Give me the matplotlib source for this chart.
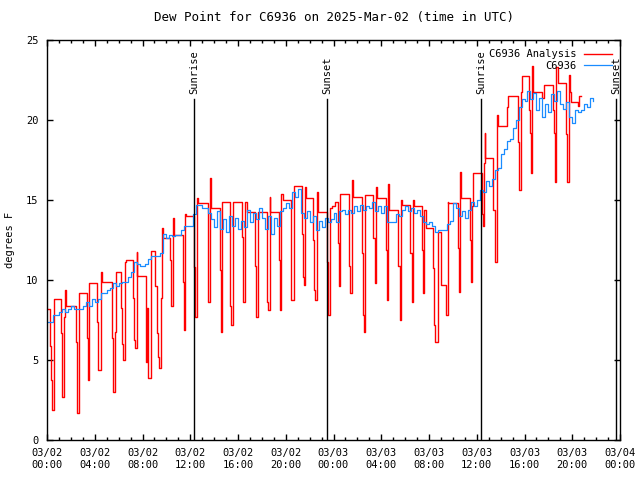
import numpy as np
import matplotlib
matplotlib.use("Agg")
import matplotlib.pyplot as plt

# hours since 2025-03-02 00:00 UTC
red_t = [0.0, 0.25, 0.32, 0.38, 0.42, 0.55, 0.58, 0.62,
         1.17, 1.22, 1.28, 1.4, 1.48, 1.55,
         2.43, 2.48, 2.52, 2.65, 2.7,
         3.35, 3.4, 3.5,
         4.19, 4.25, 4.3, 4.55, 4.6,
         5.44, 5.5, 5.7, 5.78,
         6.2, 6.28, 6.35, 6.55, 6.62,
         7.2, 7.3, 7.4, 7.5, 7.56,
         8.29, 8.33, 8.38, 8.45, 8.68, 8.75,
         9.05, 9.2, 9.32, 9.4, 9.58, 9.63, 9.7,
         10.3, 10.36, 10.42, 10.58, 10.64,
         11.38, 11.44, 11.6, 11.66,
         12.3, 12.38, 12.6, 12.66,
         13.48, 13.52, 13.62, 13.66, 13.74,
         14.48, 14.55, 14.7,
         15.3, 15.4, 15.62,
         16.33, 16.38, 16.44, 16.6, 16.75,
         17.45, 17.5, 17.65,
         18.4, 18.47, 18.52, 18.65, 18.72,
         19.4, 19.48, 19.64, 19.75,
         20.4, 20.48, 20.72,
         21.36, 21.44, 21.5, 21.64, 21.72,
         22.28, 22.38, 22.48, 22.6, 22.68,
         23.45, 23.53, 23.72, 23.9, 24.1,
         24.4, 24.46, 24.55,
         25.27, 25.4, 25.58, 25.66,
         26.38, 26.45, 26.52, 26.68,
         27.3, 27.5, 27.6, 27.68,
         28.4, 28.5, 28.6, 28.68,
         29.4, 29.55, 29.68, 29.75,
         30.4, 30.55, 30.66, 30.75,
         31.4, 31.5, 31.62, 31.75,
         32.3, 32.42, 32.5, 32.72,
         33.0, 33.4, 33.55, 33.62,
         34.42, 34.5, 34.62, 34.7,
         35.4, 35.5, 35.6, 35.66,
         36.45, 36.52, 36.6, 36.65, 36.72,
         37.4, 37.52, 37.66, 37.75,
         38.55, 38.65,
         39.45, 39.55, 39.7, 39.78,
         40.4, 40.45, 40.52, 40.66, 40.75,
         41.5, 41.65,
         42.4, 42.48, 42.55, 42.68, 42.78,
         43.47, 43.55, 43.7, 43.8, 43.9,
         44.5, 44.58, 44.72]
red_v = [8.2, 5.9, 3.75, 2.8, 1.9, 5.3, 7.7, 8.8,
         6.7, 4.4, 2.7, 7.7, 9.4, 8.4,
         6.1, 2.8, 1.7, 5.4, 9.2,
         6.4, 3.75, 9.8,
         7.4, 5.1, 4.4, 10.5, 9.9,
         6.4, 3.0, 6.75, 10.5,
         8.25, 6.0, 5.0, 11.1, 11.25,
         8.9, 6.25, 5.75, 11.75, 10.25,
         7.6, 4.9, 8.25, 3.9, 7.9, 11.8,
         9.6, 6.7, 5.2, 4.5, 8.9, 13.25, 12.6,
         11.25, 10.5, 8.4, 13.9, 12.8,
         9.9, 6.9, 14.1, 14.0,
         10.8, 7.7, 15.1, 14.8,
         11.75, 8.6, 12.5, 16.4, 14.5,
         10.6, 6.75, 14.9,
         8.4, 7.2, 14.9,
         12.7, 9.25, 8.6, 14.9, 14.25,
         10.9, 7.7, 14.25,
         11.7, 8.6, 8.1, 15.2, 14.25,
         11.25, 8.1, 15.4, 15.0,
         11.9, 8.75, 15.9,
         12.9, 10.2, 9.7, 15.8, 15.1,
         12.5, 9.4, 8.75, 15.5, 14.25,
         11.1, 7.8, 14.5, 14.6, 14.9,
         12.3, 9.6, 15.4,
         10.9, 9.2, 16.25, 15.2,
         11.7, 7.8, 6.75, 15.3,
         12.6, 9.8, 15.8, 15.1,
         11.9, 8.75, 16.0, 14.4,
         10.9, 7.5, 15.0, 14.7,
         11.7, 8.6, 15.0, 14.6,
         11.9, 9.2, 14.4, 13.25,
         10.75, 7.2, 6.1, 13.0,
         9.7, 7.8, 14.9, 14.8,
         12.0, 9.25, 16.75, 15.1,
         12.5, 9.9, 14.6, 16.7,
         14.1, 13.4, 17.3, 19.2, 17.6,
         14.4, 11.1, 20.3, 19.6,
         20.8, 21.5,
         18.6, 15.6, 21.75, 22.75,
         20.6, 19.2, 16.7, 23.4, 21.75,
         21.4, 22.2,
         20.6, 19.2, 16.1, 23.3, 22.3,
         19.1, 16.1, 22.8, 21.75, 21.1,
         20.9, 21.5, 21.5]

# observations, one value per quarter hour from 00:00
obs_v = [7.4, 7.4, 7.8, 7.8, 8.0, 8.2, 8.0, 8.2,
         8.4, 8.2, 8.2, 8.2, 8.4, 8.6, 8.4, 8.8,
         8.6, 8.8, 9.2, 9.2, 9.4, 9.5, 9.8, 9.6,
         9.8, 9.9, 9.9, 10.2, 10.5, 11.1, 11.0, 10.9,
         10.9, 11.0, 11.3, 11.5, 11.5, 11.5, 11.7, 12.9,
         12.6, 12.8, 12.75, 12.8, 12.8, 13.1, 13.4, 13.4,
         13.4, 14.1, 14.7, 14.7, 14.5, 14.5, 14.2, 13.8,
         13.3, 14.3, 13.2, 13.8, 13.0, 14.0, 13.4, 13.9,
         13.2, 13.7, 13.3, 14.4, 13.6, 14.2, 13.8, 14.5,
         13.9, 13.2, 14.0, 12.9, 13.9, 13.4, 14.3, 14.5,
         14.8, 14.5, 15.5, 15.2, 15.7, 14.2, 13.9, 14.3,
         13.6, 14.0, 13.1, 13.7, 13.3, 13.9, 13.6, 13.8,
         14.2, 13.6, 14.3, 14.4, 14.1, 14.4, 14.2, 14.6,
         14.3, 14.7, 14.4, 14.6, 14.5, 14.9, 14.3, 14.6,
         14.2, 14.6, 13.6, 13.6, 13.6, 14.1, 14.0, 14.4,
         14.6, 14.3, 14.5, 14.2, 14.4, 14.0, 13.6, 13.5,
         13.6, 13.4, 13.0, 13.15, 13.15, 13.15, 13.5, 13.7,
         14.8, 14.5, 14.0, 14.3, 13.9, 14.4, 14.9, 14.6,
         15.0, 15.6, 15.5, 16.2, 15.9, 16.3, 16.9, 17.0,
         17.9, 18.2, 18.7, 18.8, 19.5, 20.0, 20.8, 21.3,
         21.2, 21.8, 21.3, 21.7, 20.6, 21.4, 20.2, 21.0,
         20.5, 21.6, 21.2, 21.8, 21.0, 20.7, 21.1, 20.2,
         19.8, 20.6, 20.5, 20.6, 21.0, 20.8, 21.4, 21.2]
obs_t = np.arange(len(obs_v)) * 0.25

sun_t = [12.3, 23.45, 36.35, 47.65]
sun_lbl = ["Sunrise", "Sunset", "Sunrise", "Sunset"]

tick_h = list(range(0, 49, 4))
tick_lbl = ["03/02\n00:00", "03/02\n04:00", "03/02\n08:00", "03/02\n12:00",
            "03/02\n16:00", "03/02\n20:00", "03/03\n00:00", "03/03\n04:00",
            "03/03\n08:00", "03/03\n12:00", "03/03\n16:00", "03/03\n20:00",
            "03/04\n00:00"]

plt.rcParams['font.family'] = 'DejaVu Sans Mono'
plt.rcParams['font.size'] = 7.5

fig = plt.figure(figsize=(6.4, 4.8), dpi=100)
ax = fig.add_axes([47/640, 40/480, 573/640, 400/480])

ax.plot(red_t, red_v, drawstyle='steps-post', color='#ff0000', lw=1.0,
        label='C6936 Analysis')
ax.plot(obs_t, obs_v, drawstyle='steps-post', color='#1a8cff', lw=0.9,
        label='C6936')

for t, s in zip(sun_t, sun_lbl):
    ax.plot([t, t], [0, 21.3], color='black', lw=1.0)
    ax.text(t, 21.65, s, rotation=90, ha='center', va='bottom')

ax.set_xlim(0, 48)
ax.set_ylim(0, 25)
ax.set_xticks(tick_h)
ax.set_xticklabels(tick_lbl)
ax.set_xticks(range(0, 49), minor=True)
ax.set_yticks([0, 5, 10, 15, 20, 25])
ax.tick_params(direction='in', top=True, right=True, length=4, width=1, pad=6)
ax.tick_params(which='minor', direction='in', top=True, length=2, width=1)
for sp in ax.spines.values():
    sp.set_linewidth(1)

ax.set_ylabel('degrees F', labelpad=8)
ax.set_title('Dew Point for C6936 on 2025-Mar-02 (time in UTC)', pad=14)

ax.legend(loc='upper right', frameon=False, markerfirst=False,
          handlelength=2.6, handletextpad=0.8, labelspacing=0.15,
          borderaxespad=0.3, bbox_to_anchor=(0.998, 0.995))

fig.savefig('out.png', dpi=100)
